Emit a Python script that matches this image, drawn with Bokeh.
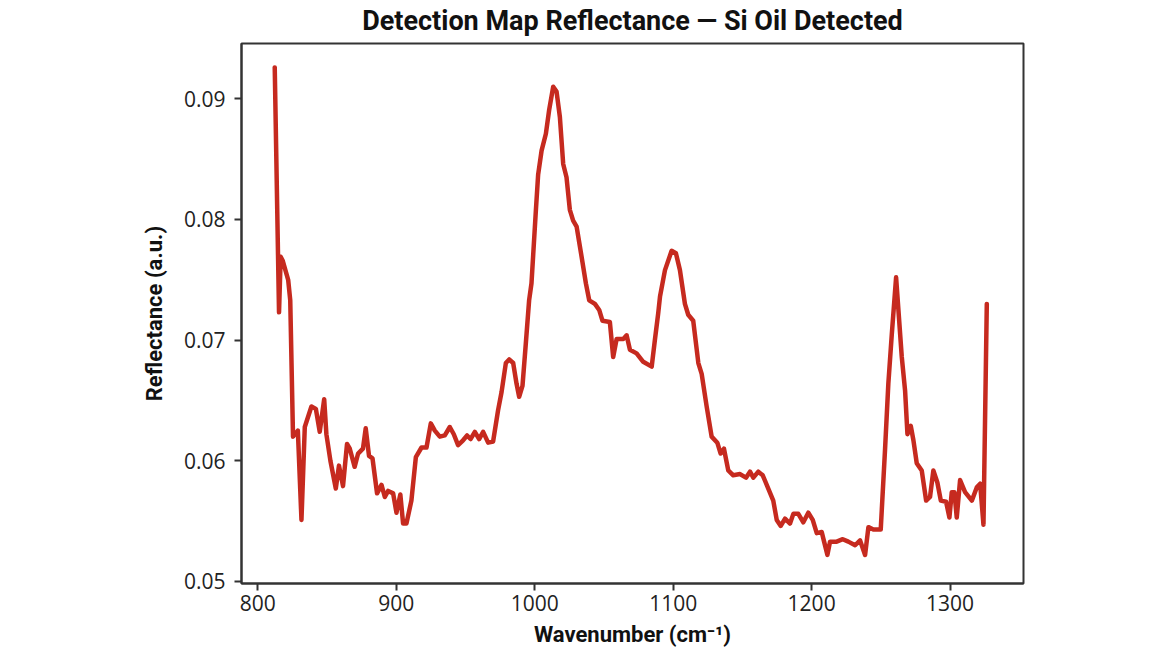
from bokeh.plotting import figure
from bokeh.models import Range1d, FixedTicker, Title
from bokeh.embed import file_html
from bokeh.resources import INLINE

# Data
wavenumber = [
    812.3, 815.4, 816.6, 818.0, 822.0, 823.5, 825.5, 829.0, 831.6, 834.0,
    838.8, 842.0, 844.8, 848.0, 849.6, 852.5, 856.4, 858.7, 861.6, 864.5,
    866.5, 870.0, 872.5, 876.0, 878.0, 880.4, 882.9, 886.2, 889.4, 891.8,
    894.2, 897.8, 900.2, 903.0, 905.0, 907.4, 911.0, 914.2, 918.3, 921.9,
    925.0, 927.9, 931.5, 935.1, 938.7, 941.6, 944.7, 948.3, 951.2, 953.7,
    956.8, 959.9, 962.8, 966.4, 970.0, 973.6, 976.1, 979.2, 981.6, 984.5,
    986.9, 988.8, 991.2, 993.6, 996.0, 997.7, 1000.9, 1002.5, 1005.0, 1008.1,
    1010.5, 1013.4, 1015.8, 1018.2, 1020.6, 1023.0, 1025.4, 1027.8, 1030.3, 1033.9,
    1037.0, 1039.4, 1043.5, 1046.6, 1049.0, 1054.3, 1056.7, 1059.2, 1064.0, 1066.4,
    1068.8, 1073.6, 1078.4, 1084.5, 1086.8, 1089.2, 1090.5, 1094.1, 1098.9, 1102.0,
    1104.9, 1108.5, 1110.9, 1114.5, 1118.2, 1120.6, 1124.2, 1127.8, 1131.9, 1134.3,
    1136.7, 1139.8, 1143.4, 1148.3, 1152.6, 1155.5, 1157.9, 1161.5, 1164.7, 1168.7,
    1172.3, 1174.8, 1177.7, 1180.8, 1184.4, 1186.8, 1190.4, 1194.0, 1197.6, 1200.8,
    1203.7, 1207.3, 1209.0, 1211.4, 1213.3, 1218.1, 1222.5, 1226.5, 1231.4, 1235.0,
    1238.6, 1241.0, 1244.6, 1249.9, 1253.0, 1255.4, 1257.9, 1261.0, 1265.1, 1267.5,
    1269.2, 1271.6, 1273.5, 1275.9, 1279.5, 1282.7, 1285.5, 1287.9, 1290.8, 1293.3,
    1297.1, 1299.5, 1301.2, 1303.1, 1304.8, 1307.2, 1310.8, 1315.7, 1319.3, 1321.7,
    1324.1, 1326.5,
]
reflectance = [
    0.0926, 0.0723, 0.0769, 0.0766, 0.0750, 0.0733, 0.0620, 0.0625, 0.0551, 0.0628,
    0.0645, 0.0643, 0.0624, 0.0651, 0.0622, 0.0600, 0.0577, 0.0596, 0.0579, 0.0614,
    0.0610, 0.0595, 0.0606, 0.0610, 0.0627, 0.0604, 0.0602, 0.0573, 0.0580, 0.0570,
    0.0575, 0.0573, 0.0557, 0.0572, 0.0548, 0.0548, 0.0567, 0.0603, 0.0611, 0.0611,
    0.0631, 0.0625, 0.0620, 0.0621, 0.0628, 0.0622, 0.0613, 0.0617, 0.0621, 0.0618,
    0.0624, 0.0618, 0.0624, 0.0615, 0.0616, 0.0642, 0.0657, 0.0681, 0.0684, 0.0681,
    0.0664, 0.0653, 0.0662, 0.0697, 0.0733, 0.0747, 0.0808, 0.0837, 0.0857, 0.0871,
    0.0891, 0.0910, 0.0906, 0.0885, 0.0846, 0.0835, 0.0808, 0.0799, 0.0794, 0.0769,
    0.0747, 0.0733, 0.0730, 0.0725, 0.0716, 0.0715, 0.0686, 0.0701, 0.0701, 0.0704,
    0.0692, 0.0689, 0.0682, 0.0678, 0.0700, 0.0722, 0.0736, 0.0758, 0.0774, 0.0772,
    0.0758, 0.0730, 0.0721, 0.0716, 0.0681, 0.0672, 0.0645, 0.0620, 0.0615, 0.0606,
    0.0610, 0.0592, 0.0588, 0.0589, 0.0586, 0.0591, 0.0586, 0.0591, 0.0588, 0.0577,
    0.0567, 0.0551, 0.0546, 0.0552, 0.0548, 0.0556, 0.0556, 0.0549, 0.0557, 0.0551,
    0.0540, 0.0541, 0.0533, 0.0522, 0.0533, 0.0533, 0.0535, 0.0533, 0.0530, 0.0534,
    0.0522, 0.0545, 0.0543, 0.0543, 0.0609, 0.0664, 0.0705, 0.0752, 0.0686, 0.0658,
    0.0622, 0.0629, 0.0617, 0.0598, 0.0592, 0.0567, 0.0570, 0.0592, 0.0582, 0.0567,
    0.0566, 0.0553, 0.0574, 0.0574, 0.0553, 0.0584, 0.0574, 0.0567, 0.0578, 0.0581,
    0.0547, 0.0730,
]
x_ticks = [800, 900, 1000, 1100, 1200, 1300]
y_ticks = [0.05, 0.06, 0.07, 0.08, 0.09]
y_tick_labels = {0.05: "0.05", 0.06: "0.06", 0.07: "0.07", 0.08: "0.08", 0.09: "0.09"}

title_text = "Detection Map Reflectance \u2014 Si Oil Detected"

p = figure(
    width=1170, height=658,
    output_backend="svg", toolbar_location=None,
    x_range=Range1d(788.3, 1353.0),
    y_range=Range1d(0.04983, 0.09458),
    min_border_left=241, min_border_right=147,
    min_border_top=43, min_border_bottom=75,
    background_fill_color="white", border_fill_color="white",
)

p.title = Title(text=title_text, align="center", vertical_align="top",
                text_font="Roboto", text_font_size="27px",
                text_font_style="bold", text_color="#111111",
                standoff=9)

p.line(wavenumber, reflectance, line_color="#C62A1F", line_width=4.5,
       line_join="round", line_cap="round")

p.grid.visible = False
p.outline_line_color = "#333333"
p.outline_line_width = 2

for ax in (p.xaxis[0], p.yaxis[0]):
    ax.axis_line_color = "#333333"
    ax.axis_line_width = 2
    ax.major_tick_line_color = "#333333"
    ax.major_tick_line_width = 2
    ax.major_tick_out = 7
    ax.major_tick_in = 0
    ax.minor_tick_line_color = None
    ax.major_label_text_font = "Open Sans"
    ax.major_label_text_font_size = "21px"
    ax.major_label_text_color = "#222222"
    ax.axis_label_text_font = "Roboto"
    ax.axis_label_text_font_size = "22px"
    ax.axis_label_text_font_style = "bold"
    ax.axis_label_text_color = "#111111"

p.xaxis.ticker = FixedTicker(ticks=x_ticks)
p.yaxis.ticker = FixedTicker(ticks=y_ticks)
p.yaxis.major_label_overrides = y_tick_labels
p.xaxis.axis_label = "Wavenumber (cm\u207b\u00b9)"
p.yaxis.axis_label = "Reflectance (a.u.)"
p.xaxis.major_label_standoff = 4
p.yaxis.major_label_standoff = 9
p.xaxis.axis_label_standoff = 8
p.yaxis.axis_label_standoff = 14

open("out.html", "w").write(file_html(p, INLINE))
